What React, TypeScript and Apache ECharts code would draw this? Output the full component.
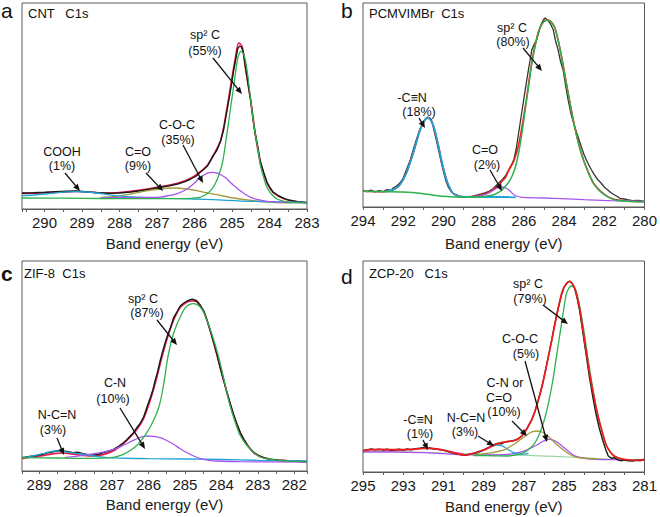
import React, { useEffect, useRef } from 'react';
import * as echarts from 'echarts';

const FONT = '"Liberation Sans", Arial, Helvetica, sans-serif';

// ---------------- Panel a : CNT C1s ----------------
const aRaw = [[290.6,16],[290.3,16.3],[290.0,16.7],[289.7,17.3],[289.4,17.7],[289.15,18],[288.9,17.3],[288.6,16.3],[288.3,15.7],[288.0,16],[287.7,17],[287.45,18.3],[287.2,19.7],[286.9,21.7],[286.7,23],[286.45,25],[286.25,27.3],[286.1,30],[285.95,33],[285.85,36.7],[285.75,39.7],[285.65,43.3],[285.5,53.3],[285.4,59],[285.3,68.3],[285.22,80],[285.15,95],[285.07,112],[285.0,128],[284.95,140],[284.9,150],[284.85,160],[284.8,163],[284.75,162],[284.7,157],[284.65,145],[284.58,127],[284.5,108],[284.44,90],[284.38,75],[284.3,60],[284.25,48],[284.15,36],[284.07,26.7],[283.98,21],[283.9,16.7],[283.75,13],[283.6,10.3],[283.45,8.7],[283.27,7.3],[283.1,6.7],[283.0,6.3]];
const aFit = [[290.6,15.7],[290.0,16.2],[289.5,17],[289.15,17.5],[288.8,17],[288.5,16],[288.0,16.5],[287.45,18.8],[286.9,22.3],[286.45,25.7],[286.1,30.7],[285.85,37],[285.65,44],[285.5,53.5],[285.3,69],[285.15,97],[285.0,131],[284.9,153],[284.82,166],[284.73,162.5],[284.65,143],[284.5,108],[284.38,75],[284.25,48],[284.07,26.7],[283.9,16.7],[283.6,10],[283.27,7.3],[283.0,6.3]];
const aSp2 = [[290.6,11],[289.5,10.8],[288.5,10.5],[287.5,10.3],[286.5,10.3],[286.1,10.7],[285.85,11.7],[285.75,13.3],[285.65,15.7],[285.55,19.3],[285.45,25],[285.35,34],[285.25,47],[285.15,71.7],[285.05,98],[284.96,121.7],[284.9,138],[284.85,150],[284.8,156],[284.76,157.7],[284.7,155.5],[284.65,150],[284.58,134],[284.51,111.7],[284.45,93],[284.38,75],[284.3,58],[284.25,45],[284.15,31],[284.07,21.7],[283.95,15],[283.8,10],[283.6,7.7],[283.44,6.7],[283.0,6]];
const aCOC = [[288.5,11.3],[287.5,11.5],[287.0,11.7],[286.8,12.7],[286.55,14.3],[286.35,17],[286.2,20],[286.0,26],[285.85,31.7],[285.75,34],[285.67,35.7],[285.54,36.7],[285.4,36],[285.3,34.3],[285.15,30.7],[285.05,26.7],[284.9,22],[284.78,18.3],[284.65,14.7],[284.5,11.7],[284.3,9.3],[284.07,7.7],[283.6,6.7],[283.0,6.3]];
const aCO = [[288.5,11.7],[288.1,12.7],[287.8,14.3],[287.36,17.7],[286.92,20],[286.56,21],[286.2,20],[285.85,17.7],[285.4,14.3],[284.96,11],[284.42,8.3],[283.9,6.7],[283.4,6.2]];
const aCOFloor = [11.7,11.3,11.0,10.7,10.5,10.3,10.0,9.7,9.3,9.0,8.3,6.7,6.2];
const aCOOH = [[290.6,13.3],[290.3,14],[290.0,15],[289.6,16.7],[289.15,17.3],[288.85,17],[288.6,16],[288.35,14.7],[288.1,13.3],[287.8,12.3],[287.45,11.7],[286.75,10.7],[286.0,10],[285.5,9.3],[284.5,7.7],[283.5,7],[283.0,6.7]];

// ---------------- Panel b : PCMVIMBr C1s ----------------
const bRaw = [[294,16.7],[293.8,15.3],[293.6,17],[293.4,15],[293.2,16.3],[293.0,15.3],[292.8,17.3],[292.6,16.7],[292.5,19],[292.35,20.7],[292.16,24],[292.0,29],[291.84,37.3],[291.65,47],[291.5,57.3],[291.35,67],[291.18,77.3],[291.05,83],[290.93,87.3],[290.85,89],[290.77,90],[290.68,89],[290.6,87.3],[290.48,78],[290.36,67.3],[290.22,55],[290.1,44],[289.98,34],[289.87,25.7],[289.75,19.5],[289.62,15.7],[289.5,13.3],[289.38,12.3],[289.2,10.7],[289.05,10],[288.8,10.3],[288.56,10.7],[288.3,12],[288.07,13.3],[287.9,14.3],[287.74,15.7],[287.55,18],[287.41,20.7],[287.25,24],[287.08,27.3],[286.9,31.7],[286.75,37.3],[286.6,43],[286.5,47.3],[286.38,58],[286.26,74],[286.1,95],[285.93,117.3],[285.75,140],[285.6,157.3],[285.48,163],[285.36,167.3],[285.3,172],[285.2,179],[285.11,184],[285.03,187],[284.95,189],[284.87,188],[284.79,186.7],[284.65,182],[284.54,177.3],[284.42,166],[284.3,157.3],[284.18,146],[284.05,137.3],[283.92,121],[283.8,107.3],[283.65,93],[283.48,80.7],[283.3,70],[283.15,60.7],[283.0,52],[282.82,44],[282.65,37.5],[282.5,32.3],[282.33,27.5],[282.16,24],[282.0,20],[281.84,17.3],[281.68,14.5],[281.51,12.3],[281.35,10.5],[281.18,8.3],[281.0,8],[280.85,7.3],[280.6,6.3],[280.3,6.7],[280.0,5.7]];
const bFit = [[294,15.7],[293,15.3],[292.5,17.3],[292.16,22.3],[291.84,34],[291.5,54],[291.18,75.7],[290.93,86.7],[290.77,89],[290.52,82.3],[290.28,64],[290.03,40.7],[289.79,24],[289.54,14],[289.21,10.7],[288.8,10.2],[288.4,11],[288.07,12.3],[287.74,14.7],[287.41,19],[287.2,23],[287.08,26],[286.9,30],[286.75,36.7],[286.5,46],[286.26,62],[285.93,100],[285.6,145],[285.28,175],[285.03,185],[284.79,187],[284.46,179.3],[284.13,151],[283.8,114.3],[283.48,81],[283.15,54.3],[282.82,36],[282.5,22.7],[282.0,12.7],[281.51,7.7],[280.85,6],[280,5.3]];
const bSp2 = [[294,15.7],[293,15.3],[292,15],[291,13.3],[290,10.7],[289,9.7],[288.5,10],[287.9,10.7],[287.6,11.7],[287.41,13],[287.15,16],[286.92,20.7],[286.75,25],[286.59,30.7],[286.42,40],[286.26,54],[286.1,73],[285.93,97.3],[285.76,121],[285.6,144],[285.44,161],[285.28,174],[285.15,181],[285.03,184.7],[284.9,186.5],[284.79,186.7],[284.62,184],[284.46,179],[284.3,167],[284.13,150.7],[283.97,132],[283.8,114],[283.64,96.5],[283.48,80.7],[283.3,65],[283.15,54],[282.98,44],[282.82,35.7],[282.65,28.5],[282.5,22.3],[282.25,16.5],[282.0,12.3],[281.75,9.3],[281.51,7.3],[281.2,6.3],[280.85,5.7],[280,5]];
const bCN = [[292.9,15.7],[292.7,16.2],[292.5,17.3],[292.33,19.3],[292.16,22.3],[292.0,27.5],[291.84,34],[291.67,43.5],[291.5,54],[291.34,65],[291.18,75.7],[291.05,82.5],[290.93,86.7],[290.85,88.5],[290.77,89],[290.65,87.3],[290.52,82.3],[290.4,74.5],[290.28,64],[290.15,52],[290.03,40.7],[289.91,31.5],[289.79,24],[289.66,18.3],[289.54,14],[289.38,11.7],[289.21,10.7],[288.8,10.2],[288.0,10],[287.0,10],[286.4,9.7]];
const bCO = [[288.4,10.7],[288.1,11.7],[287.9,12.7],[287.74,14],[287.55,16.3],[287.33,19],[287.2,19.8],[287.08,20],[286.92,19.2],[286.75,17.3],[286.62,14.7],[286.5,12.3],[286.3,10.5],[286.1,9.7],[285.0,9],[284.13,8.3],[283,7.3],[281.67,6.3],[280,5.7]];

// ---------------- Panel c : ZIF-8 C1s ----------------
const cRaw = [[289.47,13.3],[289.3,14.3],[289.17,15],[289.05,15.7],[288.9,16.7],[288.75,18.3],[288.62,19.3],[288.5,20.3],[288.34,20],[288.2,19.3],[288.07,18.3],[287.95,18.7],[287.79,17.3],[287.65,16.3],[287.5,16],[287.37,16.7],[287.24,18.3],[287.1,19.7],[286.96,21.7],[286.82,24.7],[286.69,28.3],[286.6,31],[286.5,35],[286.41,38.3],[286.32,43.3],[286.23,47.5],[286.14,53.3],[286.05,63],[285.95,73.3],[285.88,81],[285.82,90],[285.75,99],[285.68,110],[285.6,121],[285.5,133.3],[285.4,143],[285.31,153.3],[285.22,159],[285.13,165],[285.03,168],[284.94,170],[284.87,171],[284.8,171.7],[284.73,171],[284.67,170],[284.58,166],[284.48,160],[284.39,150.5],[284.3,140],[284.21,128.5],[284.12,116.7],[284.03,103],[283.93,90],[283.84,78],[283.75,66.7],[283.66,56],[283.57,46.7],[283.48,38.5],[283.38,31.7],[283.25,24],[283.1,18.3],[282.95,15],[282.83,13.3],[282.65,11.7],[282.46,11],[282.3,10.7],[282.1,10],[281.9,9.7],[281.65,9.3]];
const cFit = [[289.47,12.7],[289.2,14],[288.9,15.3],[288.6,17.3],[288.35,18],[288.1,17],[287.8,15.7],[287.5,15],[287.25,16.3],[287.0,19.5],[286.75,25.5],[286.5,34],[286.3,42.5],[286.14,52],[285.95,71],[285.82,87],[285.68,107],[285.5,131],[285.31,151],[285.13,163.5],[284.94,169],[284.8,170],[284.67,169],[284.48,159],[284.3,139.5],[284.12,116],[283.93,89.5],[283.75,66],[283.57,46],[283.38,31],[283.1,18],[282.83,13],[282.46,10.7],[282.1,10],[281.65,9.3]];
const cSp2 = [[289.47,13.3],[288.5,13],[288,12.7],[287.5,12.7],[287.05,13.3],[286.85,14.7],[286.69,16.7],[286.5,20.5],[286.32,25.5],[286.14,33.3],[285.93,45.5],[285.72,63.3],[285.6,83],[285.47,113.3],[285.35,133],[285.22,146.7],[285.1,156],[284.99,163.3],[284.88,166.3],[284.76,167.3],[284.67,166.3],[284.58,164],[284.48,158.5],[284.39,150],[284.3,141],[284.2,130],[284.07,113.3],[283.95,95],[283.84,76.7],[283.75,64],[283.66,53.3],[283.58,44.5],[283.5,36.7],[283.35,28],[283.2,21.7],[283.05,17],[282.92,14],[282.7,12],[282.46,10.7],[282.0,9.8],[281.65,9.3]];
const cCN = [[288.3,13.3],[288.0,14.7],[287.79,15.7],[287.55,17],[287.33,18.3],[287.1,20.2],[286.87,22.7],[286.65,26.5],[286.41,30.7],[286.23,33.5],[286.05,35],[285.87,34.7],[285.68,33.3],[285.5,30.5],[285.31,26.7],[285.13,22.3],[284.94,18.3],[284.76,15],[284.58,12.3],[284.35,10.7],[284.12,10],[283.47,9.3],[281.65,9]];
const cNCN = [[289.47,13.3],[289.3,14.2],[289.17,15],[289.03,16.2],[288.9,17.3],[288.75,18.8],[288.57,20],[288.4,19.8],[288.25,19],[288.07,18.2],[287.9,17.3],[287.7,16.2],[287.5,15],[287.3,14],[287.15,13.3],[286.8,12.8],[286,12.3],[285,12],[284,11.5],[283,10.7],[281.65,10]];

// ---------------- Panel d : ZCP-20 C1s ----------------
const dRaw = [[295,21.3],[294.8,22],[294.6,23],[294.4,22.3],[294.2,22.7],[294.0,22],[293.8,22.7],[293.6,21.7],[293.4,22.3],[293.2,22.7],[293.0,22],[292.8,23],[292.6,22.3],[292.4,23.3],[292.2,23.7],[292.0,24.3],[291.85,23.3],[291.7,24],[291.5,23.3],[291.3,22.7],[291.1,22.3],[290.9,21.3],[290.7,20],[290.5,19],[290.3,18],[290.1,17.3],[289.9,16.7],[289.7,17.7],[289.5,18.7],[289.3,20],[289.1,21.3],[288.9,23],[288.7,25],[288.5,27.3],[288.3,28.7],[288.1,28.3],[287.9,30.3],[287.7,30.7],[287.5,31.3],[287.3,33],[287.1,36.3],[286.93,40.5],[286.77,46.3],[286.6,52.7],[286.44,61.3],[286.28,72.3],[286.11,84.7],[285.95,99],[285.79,114.7],[285.62,131.3],[285.46,148],[285.3,163],[285.13,177],[285.0,184.7],[284.89,188],[284.8,190],[284.72,191],[284.6,189],[284.48,184],[284.36,175],[284.23,162],[284.07,140],[283.9,117],[283.74,95],[283.57,75],[283.41,58],[283.25,44],[283.08,32],[282.92,22],[282.8,16],[282.65,13.7],[282.5,14.3],[282.35,12.3],[282.2,11.3],[282.02,12],[281.8,11.3],[281.6,11],[281.4,11.7],[281.2,11.3],[281,12.7]];
const dFit = [[295,21.7],[294.5,22.3],[294.0,22.7],[293.5,22.3],[293.0,22.3],[292.5,22.7],[292.0,23.5],[291.6,23.7],[291.2,22.7],[290.9,21.5],[290.7,20.3],[290.45,19],[290.2,17.7],[289.9,17],[289.65,17.8],[289.4,19.3],[289.15,21],[288.9,22.7],[288.65,25.3],[288.4,27.7],[288.15,29.2],[287.92,30],[287.68,30.8],[287.43,31.7],[287.27,33.3],[287.1,36],[286.93,40.5],[286.77,46],[286.6,52.5],[286.44,61],[286.28,72],[286.11,84.3],[285.95,99],[285.79,114.3],[285.62,131],[285.46,147.7],[285.3,163],[285.13,177.7],[285.0,185],[284.89,188.3],[284.8,190],[284.72,190.3],[284.6,188.5],[284.48,184.3],[284.36,176],[284.23,164.3],[284.07,143],[283.9,121],[283.74,100],[283.57,81],[283.41,65],[283.25,51],[283.08,38.5],[282.92,27.7],[282.72,20.5],[282.51,16],[282.25,13.7],[282.02,12.7],[281.75,12],[281.52,11.7],[281.25,12],[281,12.7]];
const dSp2 = [[289.5,16.5],[288.5,16.2],[287.8,16],[287.5,16.7],[287.26,17.7],[287.0,19.5],[286.77,22.7],[286.6,25.5],[286.44,29.3],[286.28,35.5],[286.11,44.3],[285.95,54.5],[285.79,67.7],[285.62,84.5],[285.46,104.3],[285.3,126],[285.13,147.7],[285.0,165],[284.89,177.7],[284.76,184],[284.64,186],[284.52,185],[284.4,181],[284.28,171],[284.15,157.7],[283.98,137],[283.82,114.3],[283.65,93],[283.49,74.3],[283.33,57.5],[283.16,44.3],[283.0,33],[282.84,24.3],[282.6,17.5],[282.34,14.3],[282.1,12.8],[281.85,12],[281.4,11.8],[281,12]];
const dCNCO = [[289.4,17.5],[289.2,17.8],[288.74,18.8],[288.3,20.5],[287.92,22.7],[287.6,26.3],[287.26,31],[287.0,35],[286.77,38.3],[286.56,40.3],[286.36,41],[286.15,40.3],[285.95,38.3],[285.7,34],[285.46,29.3],[285.2,24.7],[284.97,21],[284.72,17.7],[284.48,15.3],[284.15,14],[283.82,13.5],[283.3,13]];
const dCNCOFloor = [17.5,17.5,17.2,17.0,16.8,16.6,16.5,16.3,16.2,16.0,15.9,15.7,15.6,15.3,15.1,14.8,14.6,14.3,14.0,13.6,13.3,13.0];
const dCOC = [[295,20],[294,20],[293,19.7],[292,19.3],[291,18.3],[290,17.3],[289,17],[288.3,17.2],[287.8,17.7],[287.5,18.5],[287.26,19.3],[287.0,20.8],[286.77,22.7],[286.5,25.5],[286.28,27.7],[286.05,30.7],[285.9,32],[285.79,32.7],[285.62,32.3],[285.46,31],[285.3,29.3],[285.05,25],[284.8,21],[284.55,17],[284.31,15],[283.9,13.5],[283.49,12.7],[282.5,12.3],[281,12]];
const dNCN = [[289.6,17.7],[289.4,18.3],[289.15,20.3],[288.9,22.7],[288.6,25.5],[288.33,27],[288.1,26.3],[287.92,24.3],[287.7,21.5],[287.51,19.3],[287.3,18],[287.18,17.7],[287.0,17.8],[286.77,18.3]];
const dCtriN = [[294,21],[293.2,21.7],[292.6,22.7],[292.1,23.5],[291.8,23.7],[291.4,23.2],[290.9,21.5],[290.4,19.5],[290,18.3]];
const dBase = [[295,21],[293,20.3],[291,19],[289.2,17.7],[286.77,16.7],[285.13,15.3],[283.49,13.7],[281.85,12.3],[281,12]];

// ---------------- annotation texts (layout) ----------------
type Note = { t: string; x: number; y: number };
type Arr = [number, number, number, number];
const notes: Note[] = [
  { t: 'sp² C', x: 205, y: 35 }, { t: '(55%)', x: 205, y: 51 },
  { t: 'C-O-C', x: 177, y: 125 }, { t: '(35%)', x: 178, y: 140 },
  { t: 'C=O', x: 138, y: 152 }, { t: '(9%)', x: 138, y: 166 },
  { t: 'COOH', x: 62, y: 152 }, { t: '(1%)', x: 62, y: 166 },
  { t: 'sp² C', x: 512, y: 28 }, { t: '(80%)', x: 513, y: 42 },
  { t: '-C≡N', x: 412, y: 98 }, { t: '(18%)', x: 419, y: 112 },
  { t: 'C=O', x: 485, y: 150 }, { t: '(2%)', x: 487, y: 165 },
  { t: 'sp² C', x: 143, y: 299 }, { t: '(87%)', x: 147, y: 313 },
  { t: 'C-N', x: 115, y: 383 }, { t: '(10%)', x: 113, y: 399 },
  { t: 'N-C=N', x: 57, y: 415 }, { t: '(3%)', x: 53, y: 430 },
  { t: 'sp² C', x: 528, y: 284 }, { t: '(79%)', x: 530, y: 299 },
  { t: 'C-O-C', x: 520, y: 339 }, { t: '(5%)', x: 526, y: 354 },
  { t: 'C-N or', x: 505, y: 383 }, { t: 'C=O', x: 499, y: 398 }, { t: '(10%)', x: 504, y: 412 },
  { t: 'N-C=N', x: 466, y: 418 }, { t: '(3%)', x: 465, y: 432 },
  { t: '-C≡N', x: 418, y: 420 }, { t: '(1%)', x: 420, y: 434 },
];
const arrows: Arr[] = [
  [213, 58, 242, 94], [183, 145, 203, 183], [146, 173, 163, 191], [65, 173, 80, 191],
  [523, 48, 542, 71], [419, 118, 425, 128], [490, 170, 502, 191],
  [157, 320, 177, 345], [120, 408, 145, 449], [57, 438, 64, 455],
  [543, 305, 568, 324], [525, 361, 547, 442], [512, 421, 527, 436], [478, 436, 494, 446], [423, 440, 428, 450],
];
const titles: Note[] = [
  { t: 'CNT   C1s', x: 28, y: 13 }, { t: 'PCMVIMBr  C1s', x: 369, y: 13 },
  { t: 'ZIF-8  C1s', x: 24, y: 273 }, { t: 'ZCP-20   C1s', x: 369, y: 273 },
];
const letters: Note[] = [
  { t: 'a', x: 1, y: 10.5 }, { t: 'b', x: 341, y: 10.5 }, { t: 'c', x: 1, y: 273 }, { t: 'd', x: 341, y: 276 },
];

const BLACK = '#1a1a1a';
const RED_A = '#e8194b';
const RED_B = '#f01c1c';
const GREEN = '#2db14b';
const PURPLE = '#a855f0';
const OLIVE = '#a39b3c';
const CYAN = '#1ea4d6';
const AXIS = '#5a5a5a';

function arrowEls([x1, y1, x2, y2]: Arr) {
  const dx = x2 - x1, dy = y2 - y1, L = Math.hypot(dx, dy);
  const ux = dx / L, uy = dy / L, hl = 7, hw = 3;
  const bx = x2 - ux * hl, by = y2 - uy * hl;
  return [
    { type: 'line', z: 100, shape: { x1, y1, x2: bx + ux, y2: by + uy }, style: { stroke: '#111', lineWidth: 1.3 } },
    { type: 'polygon', z: 100, shape: { points: [[x2, y2], [bx - uy * hw, by + ux * hw], [bx + uy * hw, by - ux * hw]] }, style: { fill: '#111' } },
  ];
}

const ln = (g: number, data: number[][], color: string, width = 1.3, smooth: number | boolean = 0.3) => ({
  type: 'line', xAxisIndex: g, yAxisIndex: g, data, symbol: 'none', showSymbol: false, smooth,
  lineStyle: { color, width }, silent: true, animation: false,
});

const fillPair = (g: number, curve: number[][], floor: number[], id: string) => [
  { type: 'line', xAxisIndex: g, yAxisIndex: g, stack: id, data: curve.map((p, i) => [p[0], floor[i]]), symbol: 'none', smooth: 0.3, lineStyle: { opacity: 0, width: 0 }, silent: true },
  { type: 'line', xAxisIndex: g, yAxisIndex: g, stack: id, data: curve.map((p, i) => [p[0], Math.max(0, p[1] - floor[i])]), symbol: 'none', smooth: 0.3, lineStyle: { opacity: 0, width: 0 }, areaStyle: { color: '#f4f3c9', opacity: 1 }, silent: true },
];

const intOnly = (v: number) => (Math.abs(v - Math.round(v)) < 1e-6 ? String(Math.round(v)) : '');

function xAxis(g: number, extra: any, nameGap: number) {
  const { fmt, ...rest } = extra;
  return {
    type: 'value', gridIndex: g, inverse: true, ...rest,
    axisLine: { show: true, onZero: false, lineStyle: { color: AXIS, width: 1 } },
    axisTick: { show: true, inside: false, length: 3, lineStyle: { color: AXIS } },
    minorTick: { show: true, splitNumber: 2, length: 3, lineStyle: { color: AXIS } },
    splitLine: { show: false }, minorSplitLine: { show: false },
    axisLabel: { fontSize: 15, color: '#1a1a1a', margin: 6, fontFamily: FONT, ...(fmt ? { formatter: fmt } : {}) },
    name: 'Band energy (eV)', nameLocation: 'middle', nameGap,
    nameTextStyle: { fontSize: 15, color: '#1a1a1a', fontFamily: FONT },
  };
}

const grids = [
  { left: 22, top: 3, width: 285, height: 206 },
  { left: 363, top: 3, width: 284.5, height: 204 },
  { left: 22, top: 261, width: 285, height: 210 },
  { left: 363, top: 261, width: 284.5, height: 211 },
];

export default function App() {
  const ref = useRef<HTMLDivElement>(null);
  useEffect(() => {
    const chart = echarts.init(ref.current!, null, { renderer: 'svg' });
    const graphic: any[] = [];
    notes.forEach((n) => graphic.push({ type: 'text', z: 100, x: n.x, y: n.y, style: { text: n.t, fontSize: 12.5, fontFamily: FONT, fill: '#111', align: 'center', verticalAlign: 'middle' } }));
    titles.forEach((n) => graphic.push({ type: 'text', z: 100, x: n.x, y: n.y, style: { text: n.t, fontSize: 13, fontFamily: FONT, fill: '#111', align: 'left', verticalAlign: 'middle' } }));
    letters.forEach((n) => graphic.push({ type: 'text', z: 100, x: n.x, y: n.y, style: { text: n.t, fontSize: 21, fontFamily: FONT, fontWeight: n.t === 'c' ? 'bold' : 'normal', fill: '#111', align: 'left', verticalAlign: 'middle' } }));
    arrows.forEach((a) => graphic.push(...arrowEls(a)));

    const option: any = {
      animation: false,
      backgroundColor: '#ffffff',
      grid: grids.map((g) => ({ ...g, show: true, borderColor: AXIS, borderWidth: 1, backgroundColor: 'transparent', containLabel: false })),
      xAxis: [
        xAxis(0, { min: 283, max: 290.6, interval: 1, fmt: intOnly }, 26.5),
        xAxis(1, { min: 280, max: 294, interval: 2 }, 29),
        xAxis(2, { min: 281.65, max: 289.47, minInterval: 1, maxInterval: 1, splitNumber: 8, fmt: intOnly }, 26),
        xAxis(3, { min: 281, max: 295, interval: 2 }, 27),
      ],
      yAxis: grids.map((g, i) => ({ type: 'value', gridIndex: i, min: 0, max: g.height, show: false })),
      series: [
        // a
        ...fillPair(0, aCO, aCOFloor, 'aFill'),
        ln(0, aFit, RED_A, 1.7),
        ln(0, aRaw, BLACK, 1.4, false),
        ln(0, aCO, OLIVE),
        ln(0, aCOOH, CYAN),
        ln(0, aCOC, PURPLE),
        ln(0, aSp2, GREEN),
        // b
        ln(1, bRaw, '#333', 1.3, false),
        ln(1, bFit, RED_B, 1.6),
        ln(1, bCO, PURPLE),
        ln(1, bCN, CYAN, 1.8),
        ln(1, bSp2, GREEN, 1.5),
        // c
        ln(2, cFit, RED_A, 1.7),
        ln(2, cRaw, BLACK, 1.4, false),
        ln(2, cNCN, CYAN),
        ln(2, cCN, PURPLE),
        ln(2, cSp2, GREEN),
        // d
        ...fillPair(3, dCNCO, dCNCOFloor, 'dFill'),
        ln(3, dBase, '#9fd89f', 1.2),
        ln(3, dCtriN, '#e050d0', 1.2),
        ln(3, dCOC, PURPLE),
        ln(3, dNCN, CYAN),
        ln(3, dCNCO, OLIVE),
        ln(3, dSp2, GREEN),
        ln(3, dRaw, BLACK, 1.4, false),
        ln(3, dFit, RED_B, 1.7),
      ],
      graphic: { elements: graphic },
    };
    chart.setOption(option);
    return () => chart.dispose();
  }, []);
  return <div ref={ref} style={{ position: 'fixed', left: 0, top: 0, width: 660, height: 517, background: '#fff' }} />;
}
